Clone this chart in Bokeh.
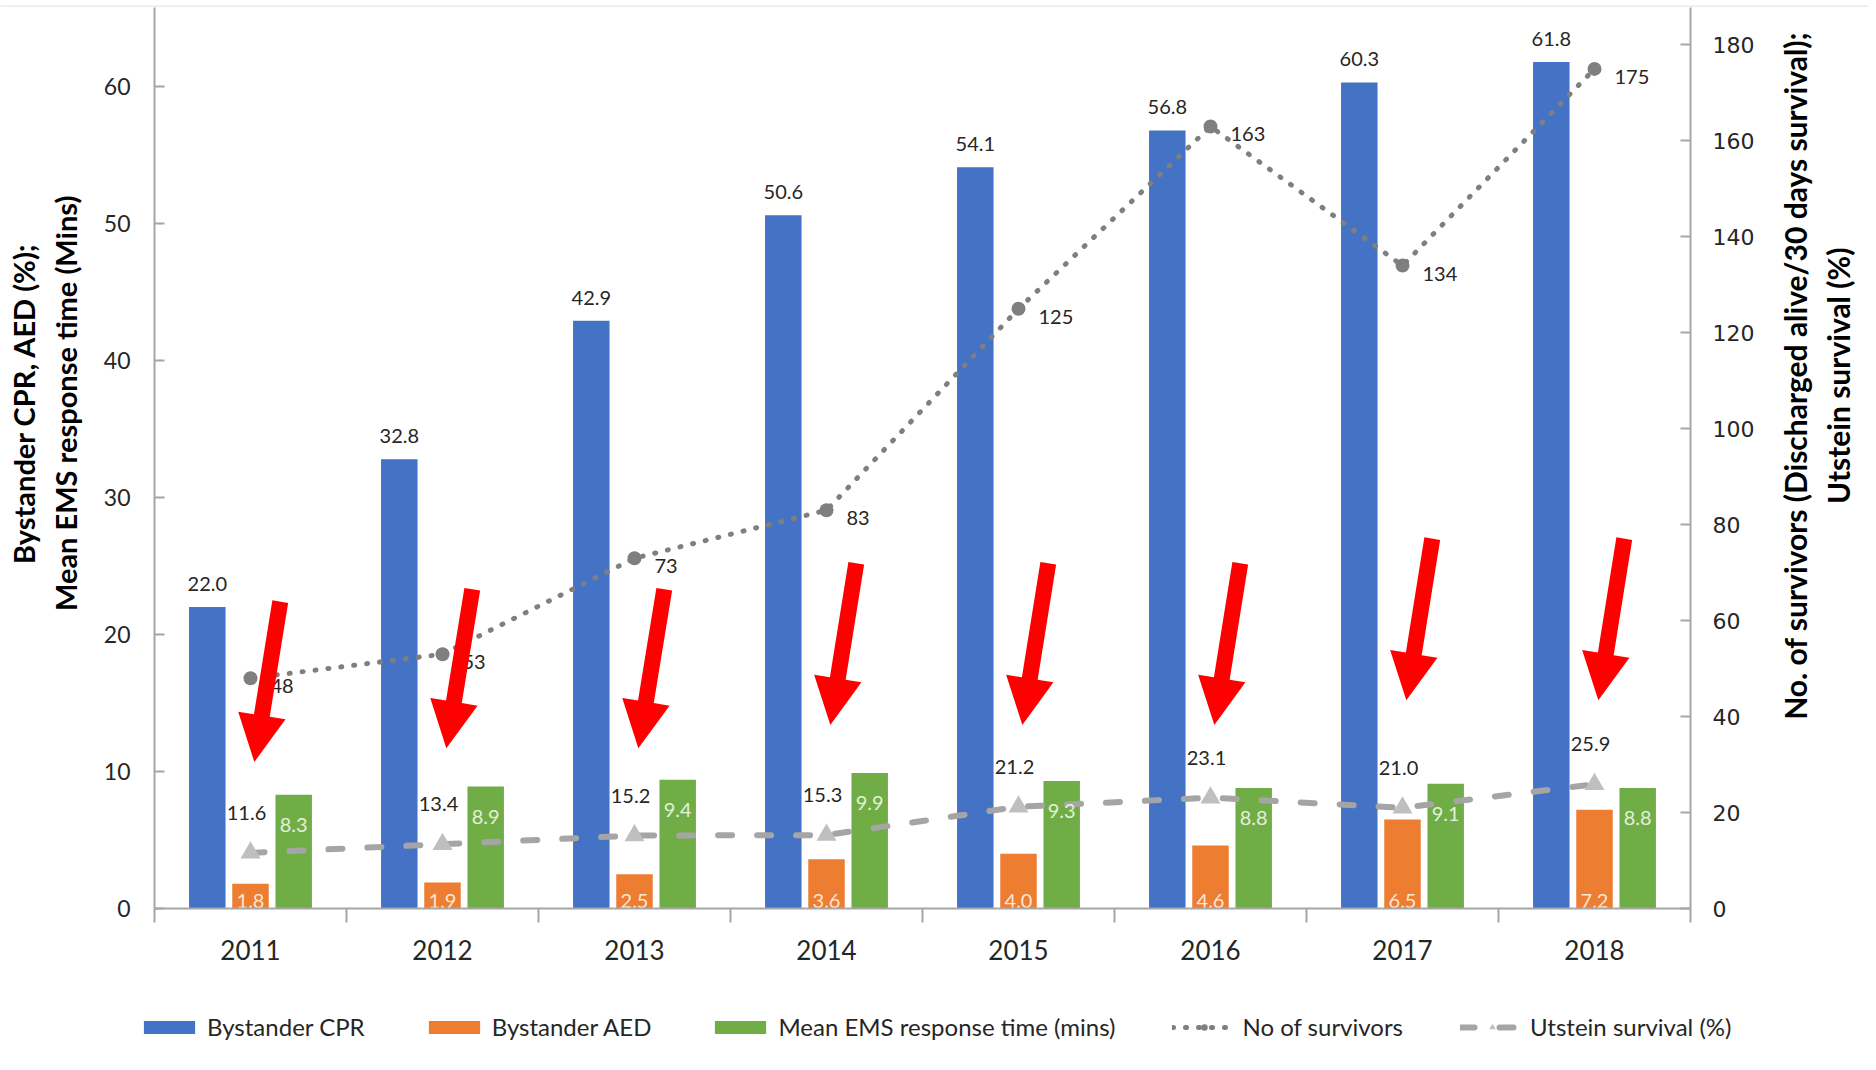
import math
from bokeh.plotting import figure
from bokeh.layouts import column, row
from bokeh.models import (ColumnDataSource, Range1d, LinearAxis, FixedTicker,
                          Legend, LegendItem)
from bokeh.transform import dodge
from bokeh.core.properties import value
from bokeh.embed import file_html
from bokeh.resources import INLINE

# ---------------- data ----------------
years = ["2011", "2012", "2013", "2014", "2015", "2016", "2017", "2018"]
bystander_cpr = [22.0, 32.8, 42.9, 50.6, 54.1, 56.8, 60.3, 61.8]
bystander_aed = [1.8, 1.9, 2.5, 3.6, 4.0, 4.6, 6.5, 7.2]
ems_response = [8.3, 8.9, 9.4, 9.9, 9.3, 8.8, 9.1, 8.8]
survivors = [48, 53, 73, 83, 125, 163, 134, 175]
utstein = [11.6, 13.4, 15.2, 15.3, 21.2, 23.1, 21.0, 25.9]
left_ticks = [0, 10, 20, 30, 40, 50, 60]
right_ticks = [0, 20, 40, 60, 80, 100, 120, 140, 160, 180]
left_title = "Bystander CPR, AED (%);\nMean EMS response time (Mins)"
right_title = "No. of survivors (Discharged alive/30 days survival);\nUtstein survival (%)"
legend_labels = ["Bystander CPR", "Bystander AED", "Mean EMS response time (mins)",
                 "No of survivors", "Utstein survival (%)"]

# red annotation arrows (heights on the left axis)
arrow_tip = [10.7, 11.7, 11.7, 13.4, 13.4, 13.4, 15.2, 15.2]
arrow_tail = [22.4, 23.3, 23.3, 25.2, 25.2, 25.2, 27.0, 27.0]

# ---------------- style / layout ----------------
FONT = "Lato"
BLUE, ORANGE, GREEN = "#4472C4", "#ED7D31", "#70AD47"
SURV_GRAY, UT_GRAY, UT_MARK = "#7F7F7F", "#A5A5A5", "#BFBFBF"
AXIS_GRAY = "#A6A6A6"
BAND = "#EDEAE6"
TOTAL_W = 1868
BAND_H = 7
LW, RW = 90, 111              # title strips
ML, MR, MB = 64, 64, 80       # main figure borders
FW, FH = 1539, 901            # plot frame
MAIN_W = ML + FW + MR
MAIN_H = FH + MB
LEG_H = 74
YL_MAX = 65.77
YR_MAX = 187.8

n = len(years)
xc = [i + 0.5 for i in range(n)]

src = ColumnDataSource(dict(
    x=xc, year=years,
    cpr=bystander_cpr, aed=bystander_aed, ems=ems_response,
    surv=survivors, ut=utstein,
    cpr_lab=[f"{v:.1f}" for v in bystander_cpr],
    aed_lab=[f"{v:.1f}" for v in bystander_aed],
    ems_lab=[f"{v:.1f}" for v in ems_response],
    surv_lab=[str(v) for v in survivors],
    ut_lab=[f"{v:.1f}" for v in utstein],
))


def blank(w, h, color="white", y0=0):
    f = figure(width=w, height=h, output_backend="svg", toolbar_location=None,
               x_range=Range1d(0, w), y_range=Range1d(y0, y0 + h),
               min_border=0, x_axis_location=None, y_axis_location=None)
    f.outline_line_color = None
    f.grid.visible = False
    f.background_fill_color = color
    f.border_fill_color = color
    return f


band = blank(TOTAL_W, BAND_H, BAND)

p = figure(width=MAIN_W, height=MAIN_H, output_backend="svg", toolbar_location=None,
           x_range=Range1d(0, n), y_range=Range1d(0, YL_MAX),
           min_border_left=ML, min_border_right=MR,
           min_border_top=0, min_border_bottom=MB,
           x_axis_location=None, y_axis_location=None)
p.extra_y_ranges = {"right": Range1d(0, YR_MAX)}
p.outline_line_color = None
p.grid.visible = False
p.background_fill_color = "white"
p.border_fill_color = "white"

BW = 0.19
DX = 0.225
bar_cpr = dict(top="cpr", width=BW, fill_color=BLUE, line_color=None)
bar_aed = dict(top="aed", width=BW, fill_color=ORANGE, line_color=None)
bar_ems = dict(top="ems", width=BW, fill_color=GREEN, line_color=None)
surv_line = dict(line_color=SURV_GRAY, line_width=5, line_dash="1 12", line_cap="round")
surv_mark = dict(marker="circle", size=14, fill_color=SURV_GRAY, line_color=None)
ut_line = dict(line_color=UT_GRAY, line_width=6, line_dash="14 25", line_cap="round")
ut_mark = dict(marker="triangle", size=20, fill_color=UT_MARK, line_color=None)

p.vbar(x=dodge("x", -DX, range=p.x_range), source=src, **bar_cpr)
p.vbar(x="x", source=src, **bar_aed)
p.vbar(x=dodge("x", DX, range=p.x_range), source=src, **bar_ems)
p.line("x", "surv", source=src, y_range_name="right", **surv_line)
p.scatter("x", "surv", source=src, y_range_name="right", **surv_mark)
p.line("x", "ut", source=src, y_range_name="right", **ut_line)
p.scatter("x", "ut", source=src, y_range_name="right", **ut_mark)

LBL = "20px"
p.text(x=dodge("x", -DX, range=p.x_range), y="cpr", text="cpr_lab",
       source=src, text_align="center", text_baseline="bottom", y_offset=-16,
       text_font=value(FONT), text_font_size=LBL, text_color="#262626")
p.text(x="x", y=0, text="aed_lab", source=src, text_align="center",
       text_baseline="bottom", y_offset=-1,
       text_font=value(FONT), text_font_size=LBL, text_color="#FBE5D6")
p.text(x=dodge("x", DX, range=p.x_range), y="ems", text="ems_lab",
       source=src, text_align="center", text_baseline="top", y_offset=23,
       text_font=value(FONT), text_font_size=LBL, text_color="#E2F0D9")
p.text(x="x", y="surv", text="surv_lab", source=src, y_range_name="right",
       text_align="left", text_baseline="middle", x_offset=20, y_offset=8,
       text_font=value(FONT), text_font_size=LBL, text_color="#262626")
p.text(x="x", y="ut", text="ut_lab", source=src, y_range_name="right",
       text_align="center", text_baseline="middle", x_offset=-4, y_offset=-40,
       text_font=value(FONT), text_font_size=LBL, text_color="#262626")

# red arrows (annotation shapes)
sx = FW / n
sy = FH / YL_MAX
axs, ays = [], []
for i in range(n):
    tx, ty = (xc[i] + 0.155) * sx, arrow_tail[i] * sy
    px, py = (xc[i] + 0.02) * sx, arrow_tip[i] * sy
    dx, dy = px - tx, py - ty
    L = math.hypot(dx, dy)
    ux, uy = dx / L, dy / L
    nx, ny = -uy, ux
    hx, hy = px - ux * 47, py - uy * 47
    pts = [(tx + nx * 8, ty + ny * 8), (hx + nx * 8, hy + ny * 8),
           (hx + nx * 24, hy + ny * 24), (px, py),
           (hx - nx * 24, hy - ny * 24), (hx - nx * 8, hy - ny * 8),
           (tx - nx * 8, ty - ny * 8)]
    axs.append([q[0] / sx for q in pts])
    ays.append([q[1] / sy for q in pts])
p.patches(axs, ays, fill_color="#FF0000", line_color=None)

# ---------------- axes ----------------
xaxis = LinearAxis(ticker=FixedTicker(ticks=xc, minor_ticks=list(range(n + 1))),
                   major_label_overrides={xc[i]: years[i] for i in range(n)})
xaxis.major_tick_line_color = None
xaxis.minor_tick_line_color = AXIS_GRAY
xaxis.minor_tick_line_width = 2
xaxis.minor_tick_in = 0
xaxis.minor_tick_out = 14
xaxis.axis_line_color = AXIS_GRAY
xaxis.axis_line_width = 2
xaxis.major_label_standoff = 17
xaxis.major_label_text_font = FONT
xaxis.major_label_text_font_size = "26px"
xaxis.major_label_text_color = "#262626"
p.add_layout(xaxis, "below")

yl = LinearAxis(ticker=FixedTicker(ticks=left_ticks, minor_ticks=[]))
yr = LinearAxis(ticker=FixedTicker(ticks=right_ticks, minor_ticks=[]),
                y_range_name="right")
for ax in (yl, yr):
    ax.axis_line_color = AXIS_GRAY
    ax.axis_line_width = 2
    ax.major_tick_line_color = AXIS_GRAY
    ax.major_tick_line_width = 2
    ax.major_tick_in = 10
    ax.major_tick_out = 0
    ax.minor_tick_line_color = None
    ax.major_label_text_color = "#262626"
yl.major_label_text_font = FONT
yl.major_label_text_font_size = "23px"
yl.major_label_standoff = 24
yr.major_label_text_font = "DejaVu Sans"
yr.major_label_text_font_size = "22px"
yr.major_label_standoff = 22
p.add_layout(yl, "left")
p.add_layout(yr, "right")

# ---------------- axis titles (strips beside the plot) ----------------
lfig = blank(LW, MAIN_H)
lfig.text(x=[44], y=[MAIN_H - 431], text=[left_title], angle=math.pi / 2,
          text_align="center", text_baseline="middle", text_line_height=1.2,
          text_font=value(FONT), text_font_style="bold", text_font_size="29px",
          text_color="#000000")
rfig = blank(RW, MAIN_H)
rfig.text(x=[59], y=[MAIN_H - 401], text=[right_title], angle=math.pi / 2,
          text_align="center", text_baseline="middle", text_line_height=1.2,
          text_font=value(FONT), text_font_style="bold", text_font_size="30px",
          text_color="#000000")

# ---------------- legend strip ----------------
# the strip shows the same series, scrolled far out of its view, so that
# only the legend swatches are visible
leg = blank(TOTAL_W, LEG_H, y0=10000)
g_cpr = leg.vbar(x="x", source=src, **bar_cpr)
g_aed = leg.vbar(x="x", source=src, **bar_aed)
g_ems = leg.vbar(x="x", source=src, **bar_ems)
g_sl = leg.line("x", "surv", source=src, **surv_line)
g_sm = leg.scatter("x", "surv", source=src, **surv_mark)
g_ul = leg.line("x", "ut", source=src, **ut_line)
g_um = leg.scatter("x", "ut", source=src, **ut_mark)
legend = Legend(items=[
    LegendItem(label=legend_labels[0], renderers=[g_cpr]),
    LegendItem(label=legend_labels[1], renderers=[g_aed]),
    LegendItem(label=legend_labels[2], renderers=[g_ems]),
    LegendItem(label=legend_labels[3], renderers=[g_sl, g_sm]),
    LegendItem(label=legend_labels[4], renderers=[g_ul, g_um]),
], orientation="horizontal", location=(137, 21))
legend.label_text_font = FONT
legend.label_text_font_size = "24px"
legend.label_text_color = "#262626"
legend.glyph_width = 64
legend.glyph_height = 16
legend.label_standoff = 6
legend.spacing = 57
legend.border_line_color = None
legend.background_fill_alpha = 0
legend.margin = 0
legend.padding = 6
leg.add_layout(legend, "center")

layout = column(band, row(lfig, p, rfig, spacing=0), leg, spacing=0)
open("out.html", "w").write(file_html(layout, INLINE))
